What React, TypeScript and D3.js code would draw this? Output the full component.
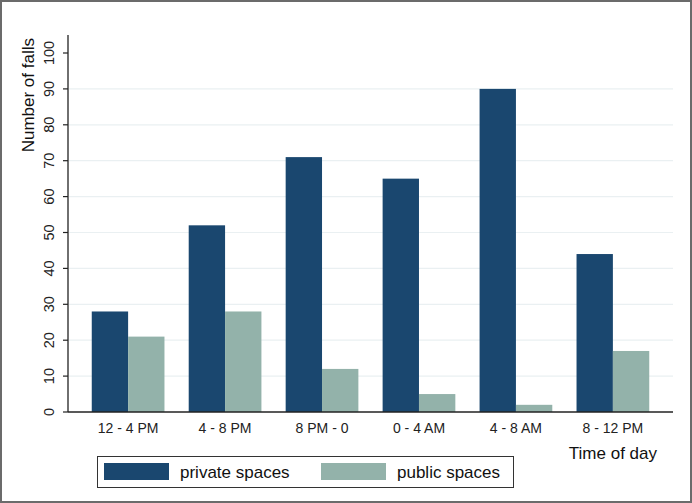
import React from "react";
import * as d3 from "d3";

const categories = ["12 - 4 PM", "4 - 8 PM", "8 PM - 0", "0 - 4 AM", "4 - 8 AM", "8 - 12 PM"];
const privateValues = [28, 52, 71, 65, 90, 44];
const publicValues = [21, 28, 12, 5, 2, 17];
const yTicks = [0, 10, 20, 30, 40, 50, 60, 70, 80, 90, 100];
const gridTicks = [10, 20, 30, 40, 50, 60, 70, 80, 90];
const seriesNames = ["private spaces", "public spaces"];
const colors = ["#1a476f", "#93b2aa"];

const W = 692;
const H = 503;
const FONT = "'Liberation Sans', Arial, Helvetica, sans-serif";

export default function App() {
  const left = 68;
  const right = 673;
  const bottom = 412;
  const top = 35;
  const x = d3.scaleBand<string>().domain(categories).range([left, right]).paddingInner(0.25).paddingOuter(0.245);
  const y = d3.scaleLinear().domain([0, 100]).range([bottom, 53]);
  const sub = d3.scaleBand<string>().domain(seriesNames).range([0, x.bandwidth()]);
  const series = [privateValues, publicValues];

  return (
    <svg width={W} height={H} style={{ position: "absolute", left: 0, top: 0, display: "block" }} fontFamily={FONT}>
      <rect x={0} y={0} width={W} height={H} fill="#ffffff" />
      <rect x={1} y={1} width={W - 2} height={H - 2} fill="none" stroke="#6b6b6b" strokeWidth={2} />
      {gridTicks.map((t) => (
        <line key={"g" + t} x1={left + 1} x2={right} y1={y(t)} y2={y(t)} stroke="#eaf0f2" strokeWidth={1.2} />
      ))}
      {categories.map((c, i) =>
        series.map((vals, s) => (
          <rect
            key={c + s}
            x={(x(c) as number) + (sub(seriesNames[s]) as number)}
            y={y(vals[i])}
            width={sub.bandwidth()}
            height={bottom - y(vals[i])}
            fill={colors[s]}
          />
        ))
      )}
      {/* y axis */}
      <line x1={left} x2={left} y1={top} y2={bottom} stroke="#222" strokeWidth={1.3} />
      {yTicks.map((t) => (
        <g key={"t" + t}>
          <line x1={left - 5} x2={left} y1={y(t)} y2={y(t)} stroke="#222" strokeWidth={1.2} />
          <text
            transform={`translate(54,${y(t)}) rotate(-90)`}
            textAnchor="middle"
            fontSize={14.5}
            fill="#222"
          >
            {t}
          </text>
        </g>
      ))}
      <text transform={`translate(33.5,38) rotate(-90)`} textAnchor="end" fontSize={17} fill="#111">
        Number of falls
      </text>
      {/* x axis */}
      <line x1={left} x2={right} y1={bottom} y2={bottom} stroke="#222" strokeWidth={1.3} />
      {categories.map((c) => (
        <text key={"x" + c} x={(x(c) as number) + x.bandwidth() / 2} y={433} textAnchor="middle" fontSize={14} fill="#222">
          {c}
        </text>
      ))}
      <text x={657} y={459} textAnchor="end" fontSize={17} fill="#111">
        Time of day
      </text>
      {/* legend */}
      <rect x={97.5} y={456.5} width={416} height={31} fill="#fff" stroke="#333" strokeWidth={1} />
      {seriesNames.map((n, i) => (
        <g key={n} transform={`translate(${i === 0 ? 104 : 321},0)`}>
          <rect x={0} y={463} width={65} height={17} fill={colors[i]} />
          <text x={76} y={478} fontSize={17} fill="#111">
            {n}
          </text>
        </g>
      ))}
    </svg>
  );
}
